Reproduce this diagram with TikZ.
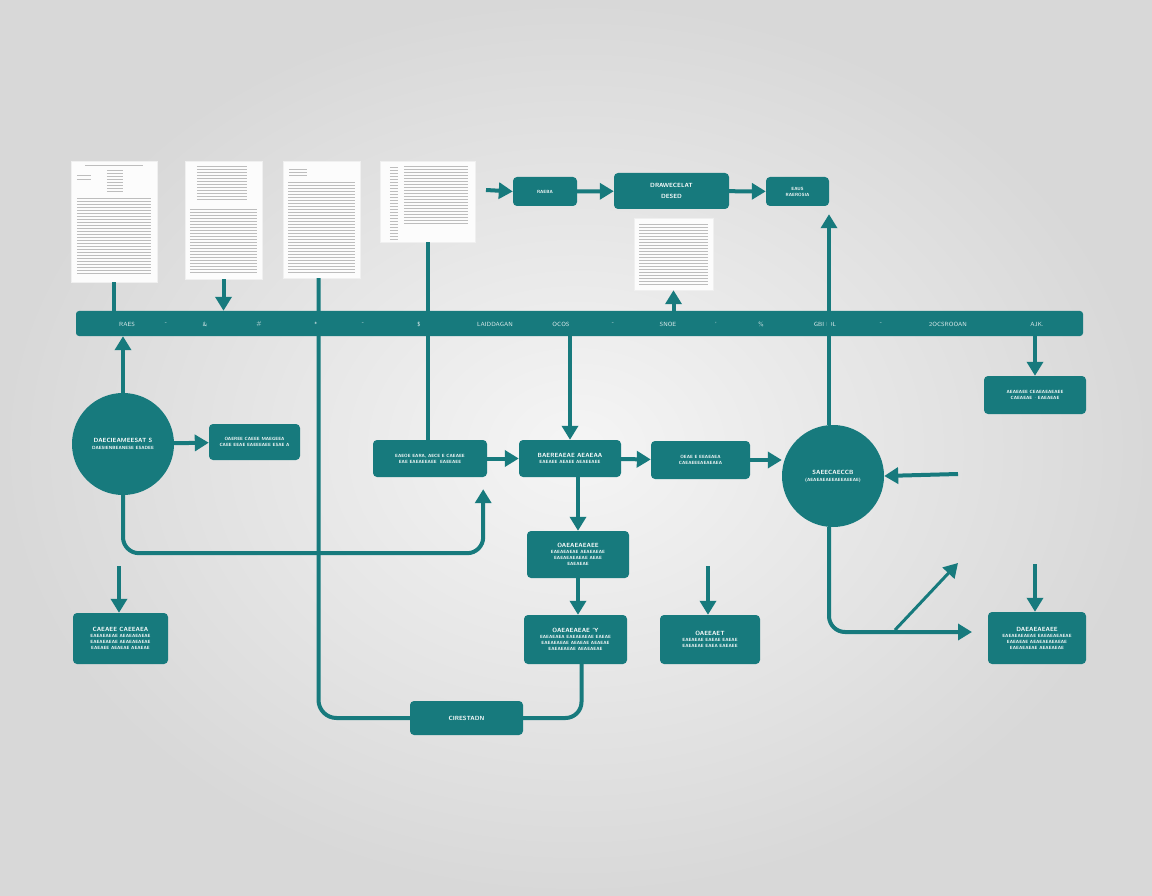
\documentclass[tikz,border=0pt]{standalone}
\usepackage{tikz}
\usetikzlibrary{arrows.meta,positioning,calc}
\definecolor{petrol}{HTML}{177A7D}
\definecolor{paper}{HTML}{FCFCFC}
\definecolor{inkgray}{HTML}{BDBDBD}
\definecolor{wall}{HTML}{D8D8D8}
\definecolor{wallhi}{HTML}{F5F5F5}

% printed lines on a page: node, left inset, length, y offsets
\newcommand\pagetext[4]{%
  \foreach \yy in {#4}
    \draw[inkgray,line width=0.5pt] ($(#1.north west)+(#2,\yy)$) -- ++(#3,0);}

\begin{document}
\begin{tikzpicture}[x=1pt,y=-1pt,
    font=\sffamily\bfseries\fontsize{4.5}{6}\selectfont,
    box/.style={fill=petrol,rounded corners=4pt,text=white,align=center,inner sep=1pt},
    head/.style={font=\sffamily\bfseries\fontsize{6}{8}\selectfont},
    hub/.style={circle,fill=petrol,text=white,align=center,inner sep=0pt,minimum size=102pt},
    barlbl/.style={text=white!85!petrol,font=\sffamily\fontsize{6}{7}\selectfont},
    link/.style={petrol,line width=4pt},
    flow/.style={link,-{Triangle[width=16pt,length=14pt]}},
    page/.style={fill=paper,draw=black!6,line width=0.4pt,inner sep=0pt}]

  \shade[inner color=wallhi,outer color=wall] (0,0) rectangle (1152,896);
  \useasboundingbox (0,0) rectangle (1152,896);

  % pages
  \node[page,minimum width=86pt,minimum height=121pt] (doc1) at (114,221.5) {};
  \node[page,minimum width=77pt,minimum height=118pt] (doc2) at (223.5,220) {};
  \node[page,minimum width=77pt,minimum height=117pt] (doc3) at (321.5,219.5) {};
  \node[page,minimum width=95pt,minimum height=81pt] (doc4) at (427.5,201.5) {};
  \node[page,minimum width=79pt,minimum height=72pt] (doc5) at (673.5,254) {};
  \pagetext{doc1}{14}{58}{4}
  \pagetext{doc1}{6}{14}{14,18}
  \pagetext{doc1}{36}{16}{9,12,...,30}
  \pagetext{doc1}{6}{74}{37,40,...,112}
  \pagetext{doc2}{12}{50}{5,8,...,40}
  \pagetext{doc2}{5}{67}{48,51,...,113}
  \pagetext{doc3}{6}{18}{8,11,14}
  \pagetext{doc3}{5}{67}{21,24,...,111}
  \pagetext{doc4}{10}{8}{6,9,...,78}
  \pagetext{doc4}{24}{64}{5,8,...,62}
  \pagetext{doc5}{5}{69}{6,9,...,66}

  % top row
  \node[box,minimum width=64pt,minimum height=29pt] (boxA) at (545,191.5) {RAEBA};
  \node[box,head,minimum width=115pt,minimum height=36pt] (boxB) at (671.5,191) {DRAWECELAT\\[3pt]DESED};
  \node[box,minimum width=63pt,minimum height=29pt] (boxC) at (797.5,191.5) {EAUS\\RAEROSIA};
  \coordinate (inA) at (486,190);

  % bar
  \node[box,rounded corners=3pt,minimum width=1007pt,minimum height=25pt] (bar) at (579.5,323.5) {};
  \node[barlbl] (b1) at (127,324) {RAES};
  \node[barlbl] (b2) at (166,324) {-};
  \node[barlbl] (b3) at (205,324) {\&};
  \node[barlbl] (b4) at (259,324) {\#};
  \node[barlbl] (b5) at (316,324) {*};
  \node[barlbl] (b6) at (363,324) {-};
  \node[barlbl] (b7) at (419,324) {\$};
  \node[barlbl] (b8) at (495,324) {LAIDDAGAN};
  \node[barlbl] (b9) at (561,324) {OCOS};
  \node[barlbl] (b10) at (613,324) {-};
  \node[barlbl] (b11) at (668,324) {SNOE};
  \node[barlbl] (b12) at (716,324) {'};
  \node[barlbl] (b13) at (761,324) {\%};
  \node[barlbl] (b14) at (825,324) {GBI IDL};
  \node[barlbl] (b15) at (881,324) {-};
  \node[barlbl] (b16) at (948,324) {2OCSROOAN};
  \node[barlbl] (b17) at (1037,324) {AJK.};

  % middle row
  \node[hub,head] (hub1) at (123,444) {DAECIEAMEESAT S\\[-1pt]{\fontsize{4.5}{6}\selectfont DAESIENBEANESE ESADEE}};
  \node[box,minimum width=91pt,minimum height=36pt] (boxH) at (254.5,442) {OAEREE CAEEE MAEGEEA\\CAEE EEAE EAEEEAEE ESAE A};
  \node[box,minimum width=114pt,minimum height=37pt] (boxL) at (430,458.5) {EAEOE EARA, AECE E CAEAEE\\EAE EAEAEEAEE \ EAEEAEE};
  \node[box,minimum width=102pt,minimum height=37pt] (boxM) at (570,458.5) {{\fontsize{6}{8}\selectfont BAEREAEAE AEAEAA}\\EAEAEE AEAEE AEAEEAEE};
  \node[box,minimum width=99pt,minimum height=38pt] (boxR) at (700.5,460) {OEAE E EEAEAEA\\CAEAEEEAEAEAEA};
  \node[hub,head] (hub2) at (833,476) {SAEECAECCB\\[-1pt]{\fontsize{4.5}{6}\selectfont (AEAEAEAEEAEEAEEAE)}};
  \node[box,minimum width=102pt,minimum height=38pt] (boxE1) at (1035,395) {AEAEAEE CEAEAEAEAEE\\CAEAEAE $\cdot$ EAEAEAE};
  \coordinate (inH) at (958,474);

  % lower rows
  \node[box,minimum width=102pt,minimum height=47pt] (boxP) at (578,554.5) {{\fontsize{6}{8}\selectfont OAEAEAEAEE}\\EAEAEAEAE AEAEAEAE\\EAEAEAEAEAE AEAE\\EAEAEAE};
  \node[box,minimum width=103pt,minimum height=49pt] (boxQ) at (575.5,639.5) {{\fontsize{6}{8}\selectfont OAEAEAEAE 'Y}\\EAEAEAEA EAEAEAEAE EAEAE\\EAEAEAEAE AEAEAE AEAEAE\\EAEAEAEAE AEAEAEAE};
  \node[box,minimum width=100pt,minimum height=49pt] (boxS) at (710,639.5) {{\fontsize{6}{8}\selectfont OAEEAET}\\EAEAEAE EAEAE EAEAE\\EAEAEAE EAEA EAEAEE};
  \node[box,minimum width=95pt,minimum height=51pt] (boxW) at (120.5,638.5) {{\fontsize{6}{8}\selectfont CAEAEE CAEEAEA}\\EAEAEAEAE AEAEAEAEAE\\EAEAEAEAE AEAEAEAEAE\\EAEAEE AEAEAE AEAEAE};
  \node[box,minimum width=98pt,minimum height=52pt] (boxE2) at (1037,638) {{\fontsize{6}{8}\selectfont DAEAEAEAEE}\\EAEAEAEAEAE EAEAEAEAEAE\\EAEAEAE AEAEAEAEAEAE\\EAEAEAEAE AEAEAEAE};
  \node[box,head,minimum width=113pt,minimum height=34pt] (cires) at (466.5,718) {CIRESTADN};
  \coordinate (tW) at (119,566);
  \coordinate (tS) at (708,566);
  \coordinate (tE) at (1035,564);
  \coordinate (outH) at (972,632);
  \coordinate (dA) at (895,630);
  \coordinate (dB) at (958,563);

  % connectors
  \draw[flow] (inA) -- (boxA.west);
  \draw[flow] (boxA) -- (boxB);
  \draw[flow] (boxB) -- (boxC);
  \draw[link] (doc1.south) -- (doc1.south |- bar.north);
  \draw[flow] (doc2.south) -- (doc2.south |- bar.north);
  \draw[link,rounded corners=18pt] ([xshift=-3pt]doc3.south) |- (cires.west);
  \draw[link] (doc4.south) -- (doc4.south |- boxL.north);
  \draw[flow] (bar.north -| doc5.south) -- (doc5.south);
  \draw[flow] ([xshift=-4pt]hub2.north) -- ([xshift=-4pt,yshift=-8pt]hub2.north |- boxC.south);
  \draw[flow] (hub1.north) -- (hub1.north |- bar.south);
  \draw[flow] (hub1) -- (boxH);
  \draw[flow,rounded corners=16pt] (hub1.south) -- ++(0,58) -| ([xshift=-4pt,yshift=-12pt]boxL.south east);
  \draw[flow] (bar.south -| boxM.north) -- (boxM.north);
  \draw[flow] (boxL) -- (boxM);
  \draw[flow] (boxM) -- (boxR);
  \draw[flow] (boxR.east) -- (hub2.west |- boxR.east);
  \draw[flow] (inH) -- (hub2.east);
  \draw[flow] (bar.south -| boxE1.north) -- (boxE1.north);
  \draw[flow] (boxP.north |- boxM.south) -- (boxP.north);
  \draw[flow] (boxP.south) -- (boxP.south |- boxQ.north);
  \draw[link,rounded corners=16pt] ([xshift=6pt]boxQ.south) |- (cires.east);
  \draw[flow] (tW) -- (tW |- boxW.north);
  \draw[flow] (tS) -- (tS |- boxS.north);
  \draw[flow] (tE) -- (tE |- boxE2.north);
  \draw[flow,rounded corners=16pt] ([xshift=-4pt]hub2.south) |- (outH);
  \draw[flow,line width=3pt] (dA) -- (dB);
\end{tikzpicture}
\end{document}
